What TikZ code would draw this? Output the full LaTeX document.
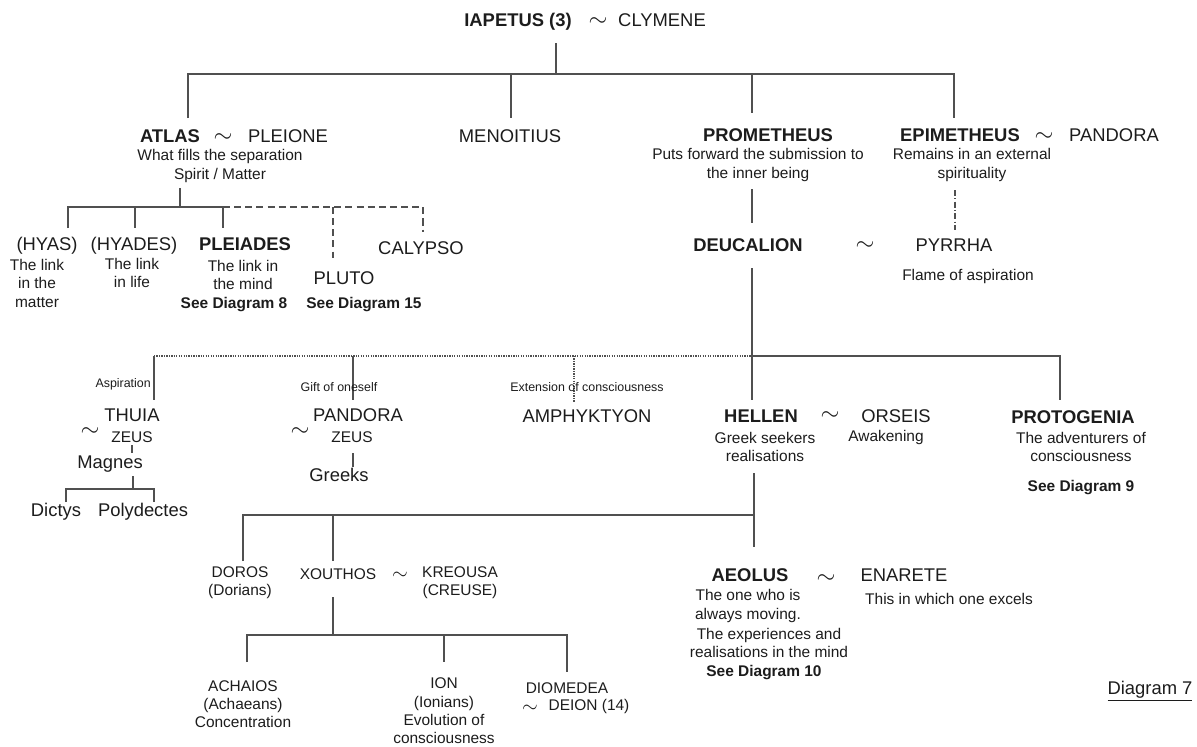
\documentclass[tikz,border=0pt]{standalone}
\usepackage{fontspec}
\setmainfont{Liberation Sans}

\definecolor{ink}{HTML}{1C1C1C}
\definecolor{wire}{HTML}{505050}

\tikzset{
  person/.style={inner sep=0pt, text=ink, text height=11.2pt, text depth=0pt, font=\fontsize{15.7}{18}\selectfont},
  bperson/.style={person, font=\fontsize{15.7}{18}\selectfont\bfseries},
  sperson/.style={inner sep=0pt, text=ink, align=center, font=\fontsize{13.2}{15.6}\selectfont},
  desc/.style={inner sep=0pt, text=ink, align=center, font=\fontsize{13.2}{15.8}\selectfont},
  bdesc/.style={desc, font=\fontsize{13.2}{15.8}\selectfont\bfseries},
  note/.style={inner sep=0pt, text=ink, font=\fontsize{10.6}{12}\selectfont},
  wed/.style={inner sep=0pt, text=ink, font=\fontsize{20}{22}\selectfont},
  swed/.style={inner sep=0pt, text=ink, text height=4pt, text depth=0pt, font=\fontsize{17}{19}\selectfont},
  link/.style={draw=wire, line width=0.9pt},
  dashlink/.style={link, dash pattern={on 6pt off 3.5pt}},
  dotlink/.style={link, line width=1.1pt, densely dotted},
  dashdotlink/.style={link, dash pattern={on 5pt off 2pt on 1pt off 2pt}},
}

\begin{document}
\begin{tikzpicture}[x=0.03cm, y=-0.03cm]
  \useasboundingbox (0,0) rectangle (1197,746);

  % --- Iapetus and Clymene ---
  \node[bperson] (iapetus) at (518,20) {IAPETUS (3)};
  \node[wed] (sim1) at (598,22) {$\sim$};
  \node[person] (clymene) at (662,20) {CLYMENE};

  \coordinate (t0) at (556,43);
  \coordinate (t1) at (556,74);
  \coordinate (atlasJ) at (188,74);
  \coordinate (atlasT) at (188,118);
  \coordinate (menoJ) at (511,74);
  \coordinate (menoT) at (511,118);
  \coordinate (promJ) at (752,74);
  \coordinate (promT) at (752,113);
  \coordinate (epiJ) at (954,74);
  \coordinate (epiT) at (954,118);
  \draw[link] (t0) -- (t1);
  \draw[link] (atlasT) -- (atlasJ) -- (epiJ) -- (epiT);
  \draw[link] (menoJ) -- (menoT);
  \draw[link] (promJ) -- (promT);

  % --- the four sons ---
  \node[bperson] (atlas) at (170,136) {ATLAS};
  \node[wed] (sim2) at (223,138) {$\sim$};
  \node[person] (pleione) at (288,136) {PLEIONE};
  \node[desc] (atlasD) at (220,166) {What fills the separation\\Spirit / Matter};
  \node[person] (meno) at (510,136) {MENOITIUS};
  \node[bperson] (prom) at (768,135) {PROMETHEUS};
  \node[desc] (promD) at (758,165) {Puts forward the submission to\\the inner being};
  \node[bperson] (epi) at (960,135) {EPIMETHEUS};
  \node[wed] (sim3) at (1044,137) {$\sim$};
  \node[person] (pandoraA) at (1114,135) {PANDORA};
  \node[desc] (epiD) at (972,165) {Remains in an external\\spirituality};

  % --- children of Atlas ---
  \coordinate (a0) at (180,188);
  \coordinate (a1) at (180,207);
  \coordinate (hyasJ) at (68,207);
  \coordinate (hyasT) at (68,228);
  \coordinate (hyadJ) at (135,207);
  \coordinate (hyadT) at (135,228);
  \coordinate (pleiJ) at (223,207);
  \coordinate (pleiT) at (223,228);
  \coordinate (plutoJ) at (333,207);
  \coordinate (plutoT) at (333,258);
  \coordinate (calyJ) at (423,207);
  \coordinate (calyT) at (423,232);
  \draw[link] (a0) -- (a1);
  \draw[link] (hyasT) -- (hyasJ) -- (pleiJ) -- (pleiT);
  \draw[link] (hyadJ) -- (hyadT);
  \draw[dashlink] (pleiJ) -- (calyJ) -- (calyT);
  \draw[dashlink] (plutoJ) -- (plutoT);

  \node[person] (hyas) at (47,244) {(HYAS)};
  \node[desc] (hyasD) at (37,283) {The link\\in the\\matter};
  \node[person] (hyades) at (134,244) {(HYADES)};
  \node[desc] (hyadesD) at (132,273) {The link\\in life};
  \node[bperson] (pleiades) at (245,244) {PLEIADES};
  \node[desc] (pleiadesD) at (243,275) {The link in\\the mind};
  \node[bdesc] (see8) at (234,305) {See Diagram 8};
  \node[person] (pluto) at (344,278) {PLUTO};
  \node[bdesc] (see15) at (364,305) {See Diagram 15};
  \node[person] (calypso) at (421,248) {CALYPSO};

  % --- Deucalion and Pyrrha ---
  \coordinate (p0) at (752,189);
  \coordinate (p1) at (752,223);
  \draw[link] (p0) -- (p1);
  \coordinate (e0) at (955,190);
  \coordinate (e1) at (955,230);
  \draw[dashdotlink] (e0) -- (e1);

  \node[bperson] (deucalion) at (748,245) {DEUCALION};
  \node[wed] (sim4) at (865,246) {$\sim$};
  \node[person] (pyrrha) at (954,245) {PYRRHA};
  \node[desc] (pyrrhaD) at (968,276) {Flame of aspiration};

  % --- children of Deucalion ---
  \coordinate (d0) at (752,268);
  \coordinate (dJ) at (752,356);
  \coordinate (hellT) at (752,400);
  \coordinate (thuJ) at (154,356);
  \coordinate (thuT) at (154,400);
  \coordinate (panJ) at (353,356);
  \coordinate (panT) at (353,400);
  \coordinate (ampJ) at (574,356);
  \coordinate (ampT) at (574,402);
  \coordinate (proJ) at (1060,356);
  \coordinate (proT) at (1060,400);
  \draw[link] (d0) -- (hellT);
  \draw[dotlink] (thuJ) -- (dJ);
  \draw[link] (dJ) -- (proJ) -- (proT);
  \draw[link] (thuJ) -- (thuT);
  \draw[link] (panJ) -- (panT);
  \draw[dotlink] (ampJ) -- (ampT);

  \node[note, anchor=east] (aspir) at (151,384) {Aspiration};
  \node[note] (gift) at (339,387) {Gift of oneself};
  \node[note] (ext) at (587,387) {Extension of consciousness};

  % Thuia
  \node[person] (thuia) at (132,415) {THUIA};
  \node[wed] (sim5) at (90,432) {$\sim$};
  \node[sperson] (zeusA) at (132,437) {ZEUS};
  \coordinate (z0) at (132,445);
  \coordinate (z1) at (132,453);
  \draw[link] (z0) -- (z1);
  \node[person] (magnes) at (110,462) {Magnes};
  \coordinate (m0) at (133,476);
  \coordinate (m1) at (133,489);
  \coordinate (dicJ) at (66,489);
  \coordinate (dicT) at (66,502);
  \coordinate (polJ) at (154,489);
  \coordinate (polT) at (154,502);
  \draw[link] (m0) -- (m1);
  \draw[link] (dicT) -- (dicJ) -- (polJ) -- (polT);
  \node[person] (dictys) at (56,510) {Dictys};
  \node[person] (polydectes) at (143,510) {Polydectes};

  % Pandora
  \node[person] (pandoraB) at (358,415) {PANDORA};
  \node[wed] (sim6) at (300,432) {$\sim$};
  \node[sperson] (zeusB) at (352,437) {ZEUS};
  \coordinate (g0) at (353,453);
  \coordinate (g1) at (353,467);
  \draw[link] (g0) -- (g1);
  \node[person] (greeks) at (339,475) {Greeks};

  \node[person] (amph) at (587,416) {AMPHYKTYON};

  % Hellen
  \node[bperson] (hellen) at (761,416) {HELLEN};
  \node[wed] (sim7) at (830,416) {$\sim$};
  \node[person] (orseis) at (896,416) {ORSEIS};
  \node[desc] (hellenD) at (765,447) {Greek seekers\\realisations};
  \node[desc] (orseisD) at (886,437) {Awakening};

  % Protogenia
  \node[bperson] (proto) at (1073,417) {PROTOGENIA};
  \node[desc] (protoD) at (1081,447) {The adventurers of\\consciousness};
  \node[bdesc] (see9) at (1081,488) {See Diagram 9};

  % --- children of Hellen ---
  \coordinate (h0) at (754,473);
  \coordinate (hJ) at (754,515);
  \coordinate (h1) at (754,547);
  \coordinate (dorJ) at (243,515);
  \coordinate (dorT) at (243,561);
  \coordinate (xouJ) at (333,515);
  \coordinate (xouT) at (333,561);
  \draw[link] (h0) -- (h1);
  \draw[link] (dorT) -- (dorJ) -- (hJ);
  \draw[link] (xouJ) -- (xouT);

  \node[sperson] (doros) at (240,583) {DOROS\\(Dorians)};
  \node[sperson] (xouthos) at (338,574) {XOUTHOS};
  \node[swed] (sim8) at (400,577) {$\sim$};
  \node[sperson] (kreousa) at (460,583) {KREOUSA\\(CREUSE)};

  % Aeolus
  \node[bperson] (aeolus) at (750,575) {AEOLUS};
  \node[wed] (sim9) at (826,579) {$\sim$};
  \node[person] (enarete) at (904,575) {ENARETE};
  \node[desc] (enareteD) at (949,599) {This in which one excels};
  \node[desc] (aeolusD) at (748,606) {The one who is\\always moving.};
  \node[desc] (aeolusE) at (769,643) {The experiences and\\realisations in the mind};
  \node[bdesc] (see10) at (764,673) {See Diagram 10};

  % --- children of Xouthos ---
  \coordinate (x0) at (333,597);
  \coordinate (xJ) at (333,635);
  \coordinate (achJ) at (247,635);
  \coordinate (achT) at (247,662);
  \coordinate (ionJ) at (444,635);
  \coordinate (ionT) at (444,662);
  \coordinate (dioJ) at (567,635);
  \coordinate (dioT) at (567,672);
  \draw[link] (x0) -- (xJ);
  \draw[link] (achT) -- (achJ) -- (dioJ) -- (dioT);
  \draw[link] (ionJ) -- (ionT);

  \node[sperson] (achaios) at (243,704) {ACHAIOS\\(Achaeans)\\Concentration};
  \node[sperson] (ion) at (444,711) {ION\\(Ionians)\\Evolution of\\consciousness};
  \node[sperson] (diomedea) at (567,688) {DIOMEDEA};
  \node[swed] (sim10) at (530,710) {$\sim$};
  \node[sperson] (deion) at (589,706) {DEION (14)};

  \node[person] (diag) at (1150,688) {\underline{Diagram 7}};
\end{tikzpicture}
\end{document}
